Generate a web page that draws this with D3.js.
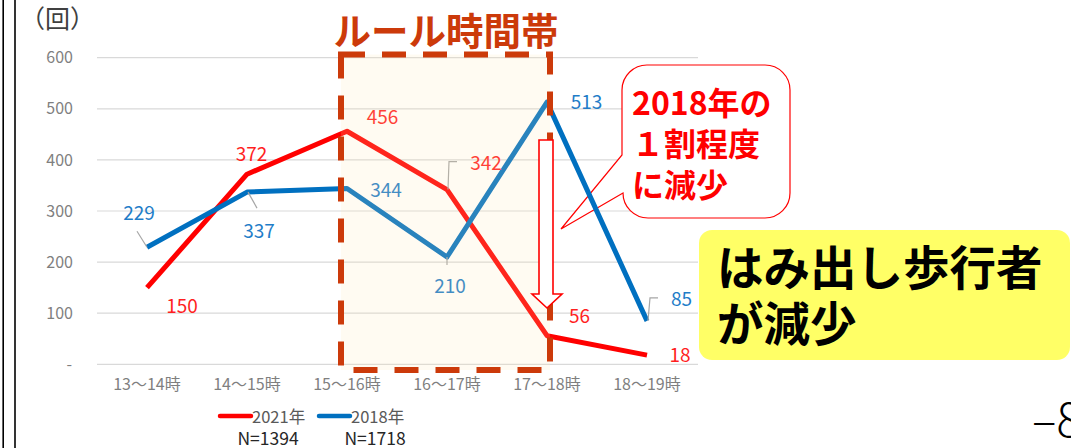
<!DOCTYPE html>
<html><head><meta charset="utf-8">
<script src="https://cdn.jsdelivr.net/npm/d3@7"></script>
<style>
html,body{margin:0;padding:0;background:#fff;}
svg{display:block;font-family:"Noto Sans CJK JP","Noto Sans",sans-serif;}
</style></head>
<body>
<svg id="chart" width="1071" height="448"></svg>
<script>
const categories = ["13～14時","14～15時","15～16時","16～17時","17～18時","18～19時"];
const series2021 = [150, 372, 456, 342, 56, 18];
const series2018 = [229, 337, 344, 210, 513, 85];
const yTicks = [0, 100, 200, 300, 400, 500, 600];
const seriesNames = ["2021年", "2018年"];
const seriesN = ["N=1394", "N=1718"];
const seriesColors = ["#FF0000", "#0070C0"];
const labelColors = ["#FF1F1F", "#1F7DC8"];

// layout-only: label offsets from each point
const off2021 = [[35,17],[4.5,-22],[35.5,-16],[39,-28],[32.5,-21],[33,-2]];
const off2018 = [[-8,-36],[12,37],[39,0],[3,28],[39.5,-2],[34.5,-23]];
const leaders2021 = [null,null,null,[[1,0],[2,-28],[10,-28]],null,null];
const leaders2018 = [[[-10,-16],[0,0]],[[1,0],[10,16]],null,[[0,0],[0,8]],null,[[1,0],[3,-23],[11,-23]]];

const svg = d3.select("#chart");
const x = d3.scaleBand().domain(categories).range([97, 697]);
const y = d3.scaleLinear().domain([0, 600]).range([364.3, 57.7]);
const cx = c => x(c) + x.bandwidth()/2;

// left frame lines
svg.append("line").attr("x1",3.2).attr("x2",3.2).attr("y1",0).attr("y2",448).attr("stroke","#000").attr("stroke-width",1.6);
svg.append("line").attr("x1",15).attr("x2",15).attr("y1",0).attr("y2",448).attr("stroke","#000").attr("stroke-width",1.6);

// gridlines
svg.append("g").selectAll("line").data(yTicks).join("line")
  .attr("x1",97).attr("x2",698).attr("y1",d=>y(d)).attr("y2",d=>y(d))
  .attr("stroke","#D9D9D9").attr("stroke-width",1.2);

// y axis
const yAxis = d3.axisLeft(y).tickValues(yTicks).tickSize(0).tickPadding(0)
  .tickFormat(d => d === 0 ? "-" : d3.format("d")(d));
const gy = svg.append("g").attr("transform","translate(73,0)").call(yAxis);
gy.select(".domain").remove();
gy.selectAll("text").attr("fill","#7F7F7F").style("font-size","16px").style("font-family","'Noto Sans CJK JP',sans-serif")
  .attr("dx", d => d === 0 ? -1 : 0);

svg.append("text").attr("x",20).attr("y",17).attr("dominant-baseline","central")
  .attr("fill","#404040").style("font-size","25px").text("（回）");

// x axis
const xAxis = d3.axisBottom(x).tickSize(0).tickPadding(0);
const gx = svg.append("g").attr("transform","translate(0,379)").call(xAxis);
gx.select(".domain").remove();
gx.selectAll("text").attr("fill","#7F7F7F").style("font-size","16px").style("font-family","'Noto Sans CJK JP',sans-serif");

// callout bubble
const bx0=623,bx1=790,by0=65,by1=218,r=25;
const bubble = `M${bx0+r},${by0} H${bx1-r} A${r},${r} 0 0 1 ${bx1},${by0+r} V${by1-r} A${r},${r} 0 0 1 ${bx1-r},${by1} H${bx0+r} A${r},${r} 0 0 1 ${bx0},${by1-r} L561,229 L${bx0-1},155 V${by0+r} A${r},${r} 0 0 1 ${bx0+r},${by0} Z`;
svg.append("path").attr("d",bubble).attr("fill","#fff").attr("stroke","#FF0000").attr("stroke-width",1.2);
const bubbleLines = ["2018年の","１割程度","に減少"];
svg.append("g").selectAll("text").data(bubbleLines).join("text")
  .attr("x",632).attr("y",(d,i)=>101+i*41).attr("dominant-baseline","central")
  .attr("fill","#FF0000").attr("font-weight","bold").style("font-size","32px").text(d=>d);

// series lines
const line = d3.line().x((d,i)=>cx(categories[i])).y(d=>y(d));
[series2021, series2018].forEach((s,k)=>{
  svg.append("path").attr("d",line(s)).attr("fill","none")
    .attr("stroke",seriesColors[k]).attr("stroke-width",5).attr("stroke-linejoin","round");
});

// leader lines
function drawLeaders(s, leaders){
  s.forEach((v,i)=>{
    const L = leaders[i]; if(!L) return;
    const px=cx(categories[i]), py=y(v);
    svg.append("polyline").attr("points",L.map(p=>(px+p[0])+","+(py+p[1])).join(" "))
      .attr("fill","none").attr("stroke","#A6A6A6").attr("stroke-width",1.2);
  });
}
drawLeaders(series2021, leaders2021);
drawLeaders(series2018, leaders2018);

// data labels
function drawLabels(s, offs, color){
  svg.append("g").selectAll("text").data(s).join("text")
    .attr("x",(d,i)=>cx(categories[i])+offs[i][0])
    .attr("y",(d,i)=>y(d)+offs[i][1])
    .attr("text-anchor","middle").attr("dominant-baseline","central")
    .attr("fill",color).style("font-size","19px").text(d=>d);
}
drawLabels(series2021, off2021, labelColors[0]);
drawLabels(series2018, off2018, labelColors[1]);

// rule-time overlay rectangle
const rx0=341, rx1=550, ry0=54.5, ry1=370;
svg.append("rect").attr("x",rx0).attr("y",ry0).attr("width",rx1-rx0).attr("height",ry1-ry0)
  .attr("fill","#FFE9B0").attr("fill-opacity",0.16);
svg.append("rect").attr("x",rx0).attr("y",ry0).attr("width",rx1-rx0).attr("height",ry1-ry0)
  .attr("fill","none").attr("stroke","#CC3A0A").attr("stroke-width",6).attr("stroke-dasharray","24,17");
svg.append("text").attr("x",446).attr("y",28).attr("text-anchor","middle").attr("dominant-baseline","central")
  .attr("fill","#CC3A0A").attr("font-weight","bold").style("font-size","37.5px").text("ルール時間帯");

// down arrow
svg.append("path").attr("d","M539,140 H553 V294 H562 L547,308 L532,294 H539 Z")
  .attr("fill","#fff").attr("stroke","#FF0000").attr("stroke-width",1.6).attr("stroke-linejoin","miter");

// yellow box
svg.append("rect").attr("x",699).attr("y",230).attr("width",371).attr("height",130).attr("rx",13)
  .attr("fill","#FFFF66");
const yellowLines = ["はみ出し歩行者","が減少"];
svg.append("g").selectAll("text").data(yellowLines).join("text")
  .attr("x",717).attr("y",(d,i)=>264+i*56).attr("dominant-baseline","central")
  .attr("fill","#000").attr("font-weight","bold").style("font-size","46.5px").text(d=>d);

// legend
const legX = [220, 319];
const nX = [268, 375];
seriesNames.forEach((n,k)=>{
  svg.append("line").attr("x1",legX[k]).attr("x2",legX[k]+31).attr("y1",416).attr("y2",416)
    .attr("stroke",seriesColors[k]).attr("stroke-width",4.5).attr("stroke-linecap","round");
  svg.append("text").attr("x",legX[k]+32).attr("y",416).attr("dominant-baseline","central")
    .attr("fill","#595959").style("font-size","16.5px").text(n);
  svg.append("text").attr("x",nX[k]).attr("y",437).attr("text-anchor","middle").attr("dominant-baseline","central")
    .attr("fill","#262626").style("font-size","17.5px").text(seriesN[k]);
});

// page number (cut at edge)
svg.append("text").attr("x",1032).attr("y",417).attr("dominant-baseline","central")
  .attr("fill","#000").style("font-size","46px").style("font-weight","300").text("–8–");
</script>
</body></html>
